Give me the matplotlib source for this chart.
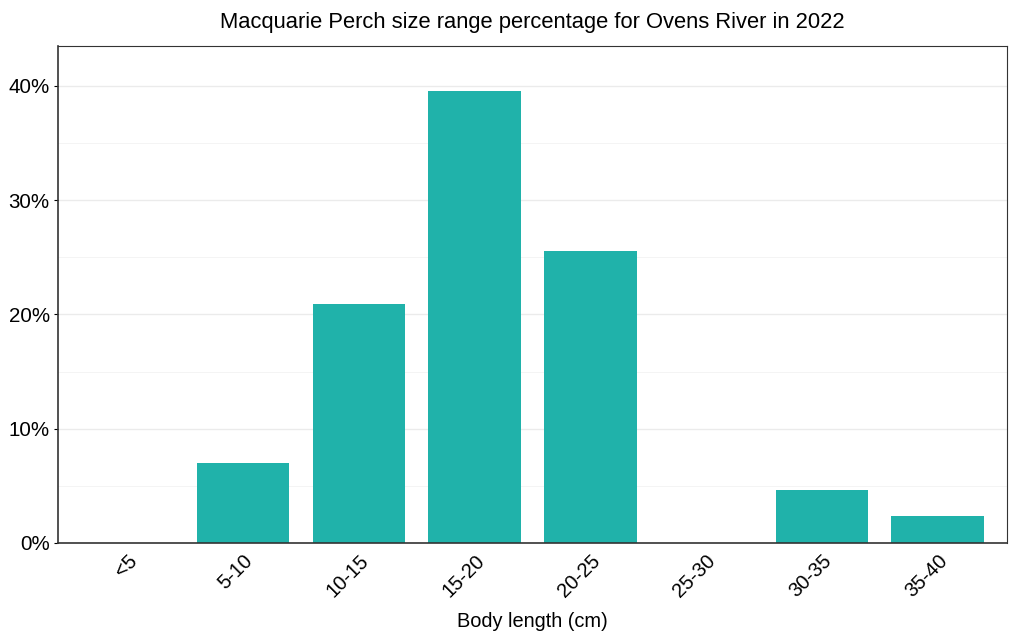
import numpy as np
import matplotlib.pyplot as plt
from matplotlib.ticker import FuncFormatter, MultipleLocator

plt.rcParams['font.family'] = ['Liberation Sans', 'DejaVu Sans']

size_class = ['<5', '5-10', '10-15', '15-20', '20-25', '25-30', '30-35', '35-40']
percent = [0.0, 6.98, 20.93, 39.53, 25.58, 0.0, 4.65, 2.33]

fig = plt.figure(figsize=(10.1, 6.41), dpi=100)
ax = fig.add_axes([58/1010, 1 - 543/641, (1007-58)/1010, (543-46)/641])

x = np.arange(len(size_class))
ax.bar(x, percent, width=0.8, color='#20B2AA', zorder=2)

ax.set_xlim(-0.6, len(size_class) - 0.4)
ax.set_ylim(0, 43.5)
ax.yaxis.set_major_locator(MultipleLocator(10))
ax.yaxis.set_minor_locator(MultipleLocator(5))
ax.yaxis.set_major_formatter(FuncFormatter(lambda v, p: f'{v:.0f}%'))
ax.grid(axis='y', which='major', color='#ebebeb', linewidth=1.0, zorder=0)
ax.grid(axis='y', which='minor', color='#f3f3f3', linewidth=0.6, zorder=0)
ax.set_axisbelow(True)

ax.set_xticks(x)
ax.set_xticklabels(size_class, rotation=45, ha='right', rotation_mode='anchor')
ax.tick_params(axis='x', length=0, labelsize=14.5, pad=6, colors='black')
ax.tick_params(axis='y', which='major', length=3, labelsize=14.8, pad=3, colors='black', width=0.8)
ax.tick_params(axis='y', which='minor', length=0)

for side in ['top', 'right']:
    ax.spines[side].set_color('#333333')
    ax.spines[side].set_linewidth(0.8)
for side in ['left', 'bottom']:
    ax.spines[side].set_color('#333333')
    ax.spines[side].set_linewidth(1.2)

ax.set_xlabel('Body length (cm)', fontsize=14.4, labelpad=8)
ax.set_title('Macquarie Perch size range percentage for Ovens River in 2022', fontsize=15.8, pad=13)

fig.savefig('out.png', dpi=100)
